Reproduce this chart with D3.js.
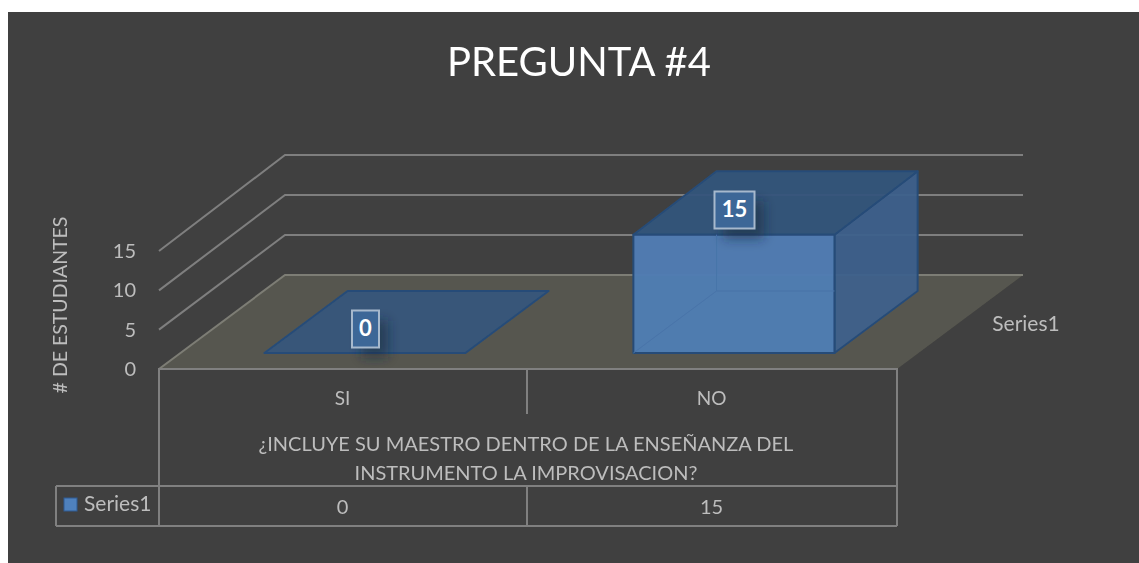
<!DOCTYPE html>
<html><head><meta charset="utf-8">
<script src="https://cdn.jsdelivr.net/npm/d3@7"></script>
<style>html,body{margin:0;padding:0;background:#fff}svg{display:block}text{font-family:Lato,"Open Sans",sans-serif}</style>
</head><body><svg id="c" width="1139" height="563"></svg>
<script>
const chartTitle = "PREGUNTA #4";
const categories = ["SI", "NO"];
const seriesName = "Series1";
const values = [0, 15];
const yTicks = [0, 5, 10, 15];
const yTitle = "# DE ESTUDIANTES";
const xTitleLines = ["¿INCLUYE SU MAESTRO DENTRO DE LA ENSEÑANZA DEL", "INSTRUMENTO LA IMPROVISACION?"];

const svg = d3.select("#c");
const defs = svg.append("defs");
defs.append("filter").attr("id","soft").attr("x","-10%").attr("y","-10%").attr("width","120%").attr("height","120%")
  .append("feGaussianBlur").attr("stdDeviation",0.45);
defs.append("filter").attr("id","soft2").attr("filterUnits","userSpaceOnUse").attr("x",0).attr("y",0).attr("width",1139).attr("height",563)
  .append("feGaussianBlur").attr("stdDeviation",0.4);
defs.append("filter").attr("id","shadow").attr("x","-60%").attr("y","-60%").attr("width","220%").attr("height","220%")
  .append("feGaussianBlur").attr("stdDeviation",6);

svg.append("rect").attr("x",8).attr("y",12).attr("width",1131).attr("height",551).attr("fill","#404040");

const GRID="#7f7f7f", TXT="#bdbdbd", TABLE="#808080";
const x = d3.scaleBand().domain(categories).range([159,897]);
const yFront = d3.scaleLinear().domain([0,15]).range([369,251]);
const yBack  = d3.scaleLinear().domain([0,15]).range([275,155]);
const depthX = 126;
const pr = (px,v,t)=>[px+depthX*t, yFront(v)+(yBack(v)-yFront(v))*t];
const line = d3.line();
const plot = svg.append("g").attr("filter","url(#soft2)");

// walls: gridlines
yTicks.slice(1).forEach(v=>{
  plot.append("path").attr("d",line([pr(159,v,0),pr(159,v,1),pr(897,v,1)]))
    .attr("fill","none").attr("stroke",GRID).attr("stroke-width",2);
});
// floor
plot.append("path").attr("d",line([pr(159,0,0),pr(159,0,1),pr(897,0,1),pr(897,0,0)])+"Z").attr("fill","#57574f");
plot.append("path").attr("d",line([pr(159,0,0),pr(159,0,1),pr(897,0,1)])).attr("fill","none").attr("stroke","#7d7d75").attr("stroke-width",2);

// bars
const t0=0.17, t1=0.83, inset=0.2275;
const EDGE="#274c78";
const labels=[];
categories.forEach((c,i)=>{
  const v=values[i], a=x(c)+x.bandwidth()*inset, b=x(c)+x.bandwidth()*(1-inset);
  const g=plot.append("g");
  const face=(pts,fill,op,sw=2,edge=EDGE)=>g.append("path").attr("d",line(pts)+"Z").attr("fill",fill).attr("fill-opacity",op).attr("stroke",edge).attr("stroke-width",sw).attr("stroke-linejoin","round");
  if(v>0){
    face([pr(b,0,t0),pr(b,0,t1),pr(b,v,t1),pr(b,v,t0)],"#3e618c",0.94);
    face([pr(a,v,t0),pr(a,v,t1),pr(b,v,t1),pr(b,v,t0)],"#34557b",0.96);
    face([pr(a,0,t0),pr(b,0,t0),pr(b,v,t0),pr(a,v,t0)],"#4f7cb3",0.97);
    const back=pr(a,0,t1), frontTop=pr(a,v,t0), frontRight=pr(b,0,t0);
    g.append("path").attr("d",line([pr(a,0,t0),back])+line([back,[frontRight[0],back[1]]])+line([back,[back[0],frontTop[1]]]))
      .attr("fill","none").attr("stroke","#4874a9").attr("stroke-width",1);
  } else {
    face([pr(a,0,t0),pr(a,0,t1),pr(b,0,t1),pr(b,0,t0)],"#375679",1);
  }
  const mid=pr((a+b)/2,v,0.5);
  labels.push({v, cx:mid[0]-41, cy:mid[1]+7, w:v>0?40:27, h:37});
});
// data labels
const lab=svg.append("g");
labels.forEach(d=>{
  lab.append("rect").attr("x",d.cx-d.w/2+9).attr("y",d.cy-d.h/2+10).attr("width",d.w).attr("height",d.h).attr("fill","#16263a").attr("fill-opacity",.55).attr("filter","url(#shadow)");
  lab.append("rect").attr("x",d.cx-d.w/2).attr("y",d.cy-d.h/2).attr("width",d.w).attr("height",d.h).attr("fill","#3d6797").attr("stroke","#a7b9cd").attr("stroke-width",2);
  lab.append("text").attr("x",d.cx).attr("y",d.cy+1).attr("text-anchor","middle").attr("dominant-baseline","middle")
    .attr("fill","#fff").attr("font-size",22).attr("font-weight",700).text(d.v);
});

// Table
const T=svg.append("g").attr("stroke",TABLE).attr("stroke-width",2).attr("fill","none").attr("filter","url(#soft2)");
const yRow1=486,yRow2=526,xLeft=56,xStart=x.range()[0],xEnd=x.range()[1],xMid=x(categories[1])-1;
T.append("path").attr("d",line([[xStart,yRow2],[xStart,369],[xEnd,369],[xEnd,yRow2]]));
T.append("path").attr("d",line([[xMid,369],[xMid,414]]));
T.append("path").attr("d",line([[xLeft,yRow1],[xEnd,yRow1]]));
T.append("path").attr("d",line([[xLeft,yRow2],[xEnd,yRow2]]));
T.append("path").attr("d",line([[xLeft,yRow1],[xLeft,yRow2]]));
T.append("path").attr("d",line([[xMid,yRow1],[xMid,yRow2]]));

svg.append("rect").attr("x",64).attr("y",498).attr("width",13).attr("height",13).attr("fill","#4f81bd").attr("stroke","#2f5b93");

// Text
const texts=svg.append("g").attr("filter","url(#soft)");
texts.append("text").attr("x",579).attr("y",76).attr("text-anchor","middle").attr("fill","#fff").attr("font-size",40).text(chartTitle);

const yAxis=d3.axisLeft(yFront).tickValues(yTicks).tickSize(0).tickPadding(0).tickFormat(d3.format("d"));
const ya=texts.append("g").attr("transform","translate(136,0)").call(yAxis);
ya.select(".domain").remove();
ya.selectAll("text").attr("fill",TXT).attr("font-size",20).style("font-family","Lato");

const xAxis=d3.axisBottom(x).tickSize(0).tickPadding(0);
const xa=texts.append("g").attr("transform","translate(-1,391)").call(xAxis);
xa.select(".domain").remove();
xa.selectAll("text").attr("fill",TXT).attr("font-size",19).style("font-family","Lato");

xTitleLines.forEach((l,i)=>texts.append("text").attr("x",526).attr("y",451+i*29).attr("text-anchor","middle").attr("fill",TXT).attr("font-size",20).text(l));

texts.append("text").attr("transform","translate(67,305) rotate(-90)").attr("text-anchor","middle").attr("fill",TXT).attr("font-size",19.5).text(yTitle);
texts.append("text").attr("x",1026).attr("y",331).attr("text-anchor","middle").attr("fill",TXT).attr("font-size",21).text(seriesName);
texts.append("text").attr("x",84).attr("y",511).attr("fill",TXT).attr("font-size",21).text(seriesName);
categories.forEach((c,i)=>texts.append("text").attr("x",x(c)+x.bandwidth()/2-1).attr("y",514).attr("text-anchor","middle").attr("fill",TXT).attr("font-size",20).text(values[i]));
</script></body></html>
